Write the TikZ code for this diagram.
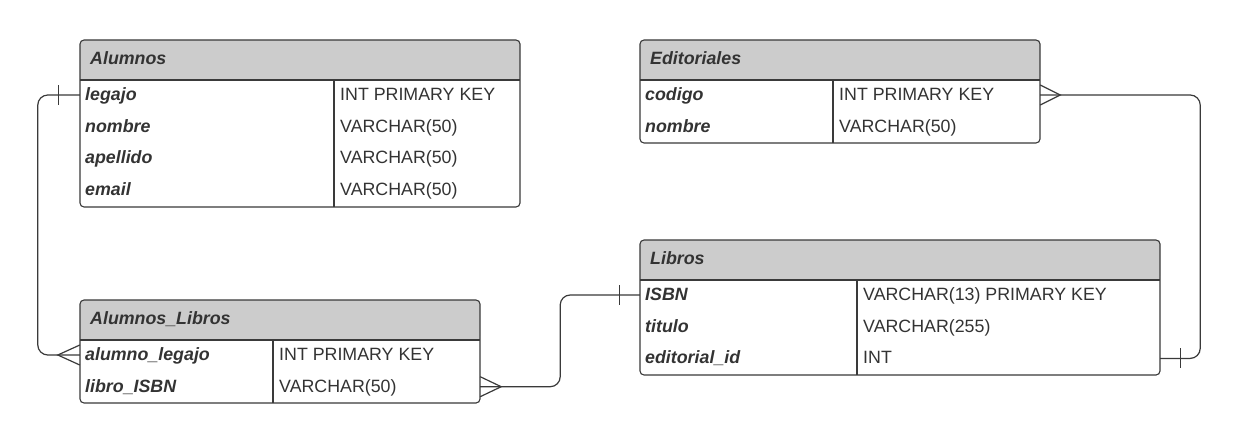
\documentclass[tikz,border=0pt]{standalone}
\usepackage{fontspec}
\setmainfont{Liberation Sans}
\definecolor{ink}{HTML}{333333}
\definecolor{hdr}{HTML}{CCCCCC}
\definecolor{edge}{HTML}{3A3A3A}
\newcommand\errow[7]{%
  \node[rowbox={#3-#2}] (#1) at ({(#2+#3)/2},#5) {};
  \node[fld] at (#2+5,#5-1) {#6};
  \node[txt] at (#4+6,#5-1) {#7};}
\newcommand\erframe[6]{% x1 y1 x2 y2 headerbottom divider
  \fill[hdr, rounded corners=4pt] (#1,#2) rectangle (#3,#5);
  \fill[hdr] (#1,#5-10) rectangle (#3,#5);
  \draw[tbl] (#1,#2) rectangle (#3,#4);
  \draw[sep] (#1,#5) -- (#3,#5);
  \draw[divl] (#6,#5) -- (#6,#4);}
\begin{document}
\begin{tikzpicture}[x=1pt,y=-1pt,
  txt/.style={inner sep=0pt, text height=12.8pt, text depth=0pt, anchor=west, text=ink, font=\fontsize{17.8}{21}\selectfont},
  fld/.style={txt, font=\fontsize{17.8}{21}\selectfont\bfseries\itshape},
  ttl/.style={fld},
  rowbox/.style={minimum width={(#1)*1pt}, minimum height=31pt, inner sep=0pt},
  tbl/.style={draw=edge, line width=1.1pt, rounded corners=4pt},
  sep/.style={draw=edge, line width=1.4pt},
  divl/.style={draw=edge, line width=1.1pt},
  conn/.style={draw=edge, line width=1.2pt},
]
\fill[white] (0,0) rectangle (1241,444);
\useasboundingbox (0,0) rectangle (1241,444);

% Alumnos
\erframe{80}{40}{520}{207}{80}{334}
\node[ttl] (alumnosT) at (90,58) {Alumnos};
\errow{a-legajo}{80}{520}{334}{95}{legajo}{INT PRIMARY KEY}
\errow{a-nombre}{80}{520}{334}{126.7}{nombre}{VARCHAR(50)}
\errow{a-apellido}{80}{520}{334}{158.4}{apellido}{VARCHAR(50)}
\errow{a-email}{80}{520}{334}{190.1}{email}{VARCHAR(50)}

% Editoriales
\erframe{640}{40}{1040}{143}{80}{833}
\node[ttl] (editT) at (650,58) {Editoriales};
\errow{e-codigo}{640}{1040}{833}{95}{codigo}{INT PRIMARY KEY}
\errow{e-nombre}{640}{1040}{833}{126.7}{nombre}{VARCHAR(50)}

% Libros
\erframe{640}{240}{1160}{375}{280}{857}
\node[ttl] (librosT) at (650,258) {Libros};
\errow{l-isbn}{640}{1160}{857}{295}{ISBN}{VARCHAR(13) PRIMARY KEY}
\errow{l-titulo}{640}{1160}{857}{326.7}{titulo}{VARCHAR(255)}
\errow{l-edit}{640}{1160}{857}{358.4}{editorial\_id}{INT}

% Alumnos_Libros
\erframe{80}{300}{480}{403}{340}{273}
\node[ttl] (alT) at (90,318) {Alumnos\_Libros};
\errow{al-alumno}{80}{480}{273}{355}{alumno\_legajo}{INT PRIMARY KEY}
\errow{al-libro}{80}{480}{273}{386.7}{libro\_ISBN}{VARCHAR(50)}

% Connector 1: Alumnos.legajo -- Alumnos_Libros.alumno_legajo
\draw[conn, rounded corners=10pt] (a-legajo.west) -- ++(-42,0) |- (al-alumno.west);
\draw[conn] ([shift={(-21,-10)}]a-legajo.west) -- ([shift={(-21,10)}]a-legajo.west);
\draw[conn] ([shift={(0,-10)}]al-alumno.west) -- ([shift={(-22,0)}]al-alumno.west) -- ([shift={(0,10)}]al-alumno.west);

% Connector 2: Alumnos_Libros.libro_ISBN -- Libros.ISBN
\draw[conn, rounded corners=10pt] (al-libro.east) -- ++(80,0) |- (l-isbn.west);
\draw[conn] ([shift={(0,-10)}]al-libro.east) -- ([shift={(21,0)}]al-libro.east) -- ([shift={(0,10)}]al-libro.east);
\draw[conn] ([shift={(-20,-10)}]l-isbn.west) -- ([shift={(-20,10)}]l-isbn.west);

% Connector 3: Libros.editorial_id -- Editoriales.codigo
\draw[conn, rounded corners=10pt] (l-edit.east) -- ++(40,0) |- (e-codigo.east);
\draw[conn] ([shift={(20,-10)}]l-edit.east) -- ([shift={(20,10)}]l-edit.east);
\draw[conn] ([shift={(0,-10)}]e-codigo.east) -- ([shift={(20,0)}]e-codigo.east) -- ([shift={(0,10)}]e-codigo.east);
\end{tikzpicture}
\end{document}
